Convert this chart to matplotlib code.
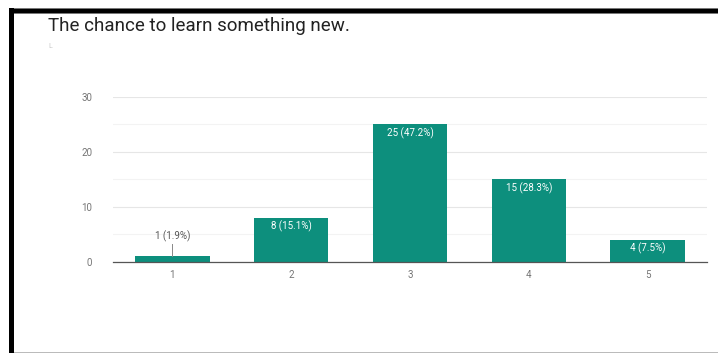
import matplotlib
matplotlib.use("Agg")
from matplotlib import pyplot as plt
from matplotlib.patches import Rectangle

title = "The chance to learn something new."
ratings = [1, 2, 3, 4, 5]
counts = [1, 8, 25, 15, 4]
percents = [1.9, 15.1, 47.2, 28.3, 7.5]

W, H = 718, 353
bar_color = "#0d8f7d"
text_gray = "#757575"

plt.rcParams["font.family"] = ["Roboto", "DejaVu Sans"]

fig = plt.figure(figsize=(W / 100, H / 100), dpi=100)
fig.patch.set_facecolor("white")

# axes box in pixel coordinates
left, right, top, bottom = 113, 707, 97, 261.5
ax = fig.add_axes([left / W, 1 - bottom / H, (right - left) / W, (bottom - top) / H])

bars = ax.bar(ratings, counts, width=0.625, color=bar_color, zorder=3)
ax.set_xlim(0.5, 5.5)
ax.set_ylim(0, 30)
ax.set_yticks([0, 10, 20, 30])
ax.set_yticks([5, 15, 25], minor=True)
ax.set_xticks(ratings)
ax.grid(axis="y", which="major", color="#e6e6e6", linewidth=0.8, zorder=0)
ax.grid(axis="y", which="minor", color="#f3f3f3", linewidth=0.8, zorder=0)
for s in ["top", "right", "left"]:
    ax.spines[s].set_visible(False)
ax.spines["bottom"].set_color("#555555")
ax.spines["bottom"].set_linewidth(0.9)
ax.spines["bottom"].set_zorder(4)
ax.tick_params(which="both", length=0)
ax.tick_params(axis="y", labelsize=7, labelcolor=text_gray, pad=15)
ax.tick_params(axis="x", labelsize=7, labelcolor=text_gray, pad=6)

# value labels: inside the bar when tall enough, else above with a leader line
for x, c, p in zip(ratings, counts, percents):
    label = f"{c} ({p}%)"
    if c >= 3:
        ax.text(x, c - 0.6, label, ha="center", va="top", color="white", fontsize=7, zorder=5)
    else:
        ax.plot([x, x], [c, c + 2.2], color="#888888", linewidth=0.7, zorder=4)
        ax.text(x, c + 2.5, label, ha="center", va="bottom", color="#555555", fontsize=7, zorder=5)

fig.text(48 / W, 1 - 26 / H, title, fontsize=13.5, color="#222222", ha="left", va="center")
fig.text(48 / W, 1 - 47 / H, "L", fontsize=5, color="#c8c8c8", ha="left", va="center")

# black frame on top and left, thin gray line at bottom
fig.patches.append(Rectangle((8.7 / W, 1 - 13.3 / H), 1, 5.8 / H, transform=fig.transFigure,
                             facecolor="black", edgecolor="#777777", linewidth=0.6, zorder=10))
fig.patches.append(Rectangle((8.7 / W, 0), 5.3 / W, 1 - 7.5 / H, transform=fig.transFigure,
                             facecolor="black", edgecolor="none", zorder=10))
fig.patches.append(Rectangle((14 / W, 0), 1, 1.3 / H, transform=fig.transFigure,
                             facecolor="#bbbbbb", edgecolor="none", zorder=10))

fig.savefig("out.png", dpi=100)
